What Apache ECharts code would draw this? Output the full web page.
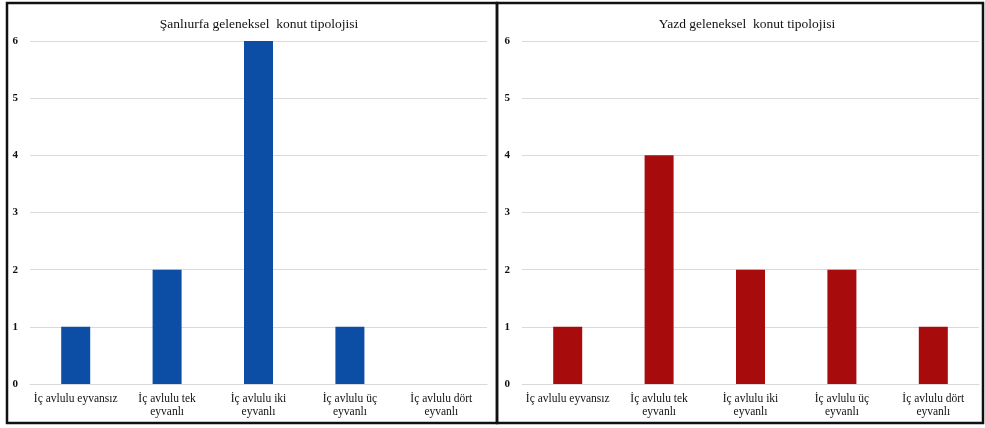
<!DOCTYPE html>
<html>
<head>
<meta charset="utf-8">
<script src="https://cdn.jsdelivr.net/npm/echarts@6/dist/echarts.min.js"></script>
<style>
html,body{margin:0;padding:0;background:#fff;}
#c{width:985px;height:428px;}
</style>
</head>
<body>
<div id="c"></div>
<script>
var categories = ["İç avlulu eyvansız", "İç avlulu tek\neyvanlı", "İç avlulu iki\neyvanlı", "İç avlulu üç\neyvanlı", "İç avlulu dört\neyvanlı"];
var sanliurfaValues = [1, 2, 6, 1, 0];
var yazdValues = [1, 4, 2, 2, 1];
var titles = ["Şanlıurfa geleneksel  konut tipolojisi", "Yazd geleneksel  konut tipolojisi"];
var yMin = 0, yMax = 6, yStep = 1;

var FONT = "Liberation Serif";
var chart = echarts.init(document.getElementById('c'), null, {renderer: 'canvas'});

function xAxis(i) {
  return {
    type: 'category', gridIndex: i, data: categories,
    axisLine: {show: true, lineStyle: {color: '#d9d9d9', width: 1}},
    axisTick: {show: false},
    axisLabel: {color: '#111', fontFamily: FONT, fontSize: 11.5, lineHeight: 13, margin: 8, interval: 0}
  };
}
function yAxis(i) {
  return {
    type: 'value', gridIndex: i, min: yMin, max: yMax, interval: yStep,
    axisLine: {show: false}, axisTick: {show: false},
    axisLabel: {color: '#111', fontFamily: FONT, fontSize: 11, fontWeight: 'bold', margin: 12},
    splitLine: {lineStyle: {color: '#d9d9d9', width: 1}}
  };
}

chart.setOption({
  animation: false,
  backgroundColor: '#fff',
  title: [
    {text: titles[0], left: 254, top: 12, textAlign: 'center',
     textStyle: {fontFamily: FONT, fontSize: 13.5, fontWeight: 'normal', color: '#111'}},
    {text: titles[1], left: 742, top: 12, textAlign: 'center',
     textStyle: {fontFamily: FONT, fontSize: 13.5, fontWeight: 'normal', color: '#111'}}
  ],
  grid: [
    {left: 30, right: 498, top: 41, bottom: 44},
    {left: 522, right: 6, top: 41, bottom: 44}
  ],
  xAxis: [xAxis(0), xAxis(1)],
  yAxis: [yAxis(0), yAxis(1)],
  series: [
    {type: 'bar', xAxisIndex: 0, yAxisIndex: 0, data: sanliurfaValues, barWidth: 29,
     itemStyle: {color: '#0C4EA6'}},
    {type: 'bar', xAxisIndex: 1, yAxisIndex: 1, data: yazdValues, barWidth: 29,
     itemStyle: {color: '#A80B0B'}}
  ],
  graphic: [
    {type: 'rect', shape: {x: 7, y: 3, width: 490, height: 420}, style: {fill: 'none', stroke: '#111', lineWidth: 2.5}, z: 100},
    {type: 'rect', shape: {x: 497, y: 3, width: 486, height: 420}, style: {fill: 'none', stroke: '#111', lineWidth: 2.5}, z: 100}
  ]
});
</script>
</body>
</html>
